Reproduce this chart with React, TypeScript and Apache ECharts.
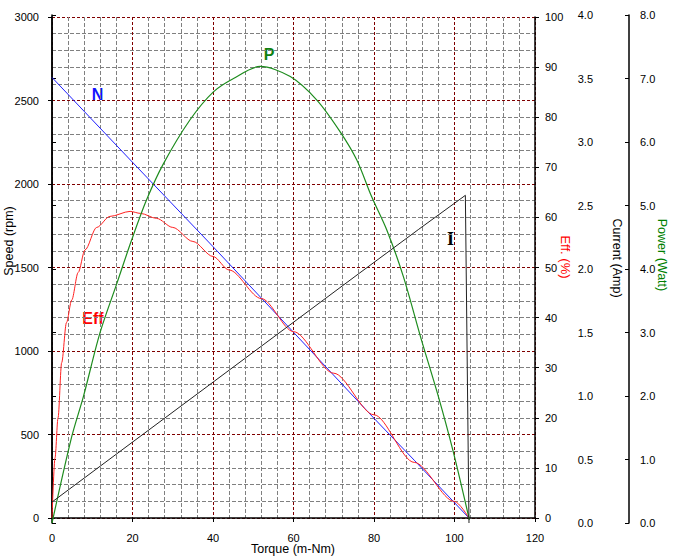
import React, { useEffect, useRef } from "react";
import * as echarts from "echarts";

// ---- data ----
const nTorque = [0, 20, 40, 60, 80, 90, 103.6];
const nSpeed = [2638, 2130, 1625, 1112, 597, 346, 0];

const effTorque = [0, 0.75, 1.5, 2.4, 3.6, 4.9, 6.5, 8.2, 11.1, 14.4, 19.4, 22, 26, 30, 35, 40, 44, 52, 60, 70, 80, 90, 100, 103.6];
const effValues = [0, 12, 20, 31, 39, 43.5, 49, 53.5, 58, 60.2, 61.2, 60.8, 59.8, 58, 55.2, 52.2, 49.5, 43.8, 37.2, 28.9, 20.6, 11.1, 3.3, 0];

const pTorque = [0, 4.9, 7.8, 11.9, 16.1, 19.8, 23.5, 27.7, 34.3, 40.1, 45.1, 51.7, 59.2, 65.8, 71.6, 75.7, 79.4, 83.2, 87.3, 91.8, 96, 99.7, 103.7];
const pValues = [0, 1.36, 1.99, 2.99, 3.77, 4.46, 5.09, 5.66, 6.35, 6.79, 7.0, 7.19, 7.03, 6.66, 6.16, 5.72, 5.14, 4.61, 3.88, 2.88, 1.99, 1.12, 0.05];

const iTorque = [0, 76.5, 91, 102.7, 103.6];
const iValues = [0.165, 1.97, 2.31, 2.58, 0];

const xTicks = { min: 0, max: 120, interval: 20 };
const speedTicks = { min: 0, max: 3000, interval: 500 };
const effTicks = { min: 0, max: 100, interval: 10 };
const currentTicks = { min: 0, max: 4, interval: 0.5 };
const powerTicks = { min: 0, max: 8, interval: 1 };

const pairs = (xs: number[], ys: number[]) => xs.map((x, i) => [x, ys[i]]);

const FONT = "'Liberation Sans', Arial, sans-serif";

export default function App() {
  const ref = useRef<HTMLDivElement>(null);
  useEffect(() => {
    if (!ref.current) return;
    const chart = echarts.init(ref.current, undefined, { renderer: "svg" });
    const labelStyle = { color: "#000", fontSize: 11, fontFamily: FONT };
    chart.setOption({
      animation: false,
      backgroundColor: "#fff",
      grid: [
        { left: 52, top: 17, width: 483, height: 501 },
        { left: 52, top: 15, width: 483, height: 508 },
      ],
      xAxis: [
        {
          type: "value",
          gridIndex: 0,
          ...xTicks,
          axisLine: { show: true, lineStyle: { color: "#000", width: 1.5 } },
          axisTick: { show: true, length: 4, lineStyle: { color: "#000" } },
          axisLabel: { ...labelStyle, margin: 14, formatter: (v: number) => String(v) },
          splitLine: { show: true, lineStyle: { color: "#800000", type: [3, 2], width: 1 } },
          minorTick: { show: false, splitNumber: 5 },
          minorSplitLine: { show: true, lineStyle: { color: "#808080", type: [4, 2], width: 1 } },
        },
        {
          type: "value",
          gridIndex: 1,
          ...xTicks,
          show: false,
          splitLine: { show: false },
        },
      ],
      yAxis: [
        {
          type: "value",
          gridIndex: 0,
          position: "left",
          ...speedTicks,
          axisLine: { show: true, lineStyle: { color: "#000", width: 1.5 } },
          axisTick: { show: true, length: 4, lineStyle: { color: "#000" } },
          axisLabel: { ...labelStyle, margin: 13, formatter: (v: number) => String(v) },
          splitLine: { show: true, lineStyle: { color: "#800000", type: [3, 2], width: 1 } },
          minorTick: { show: false, splitNumber: 5 },
          minorSplitLine: { show: true, lineStyle: { color: "#808080", type: [4, 2], width: 1 } },
        },
        {
          type: "value",
          gridIndex: 0,
          position: "right",
          ...effTicks,
          axisLine: { show: true, lineStyle: { color: "#000", width: 1.5 } },
          axisTick: { show: true, length: 4, lineStyle: { color: "#000" } },
          axisLabel: { ...labelStyle, margin: 10, formatter: (v: number) => String(v) },
          splitLine: { show: false },
        },
        {
          type: "value",
          gridIndex: 1,
          position: "right",
          offset: 69,
          ...currentTicks,
          axisLine: { show: true, lineStyle: { color: "#000", width: 1.5 } },
          axisTick: { show: true, inside: false, length: 4, lineStyle: { color: "#000" } },
          axisLabel: { ...labelStyle, inside: true, margin: 11, formatter: (v: number) => v.toFixed(1) },
          splitLine: { show: false },
        },
        {
          type: "value",
          gridIndex: 1,
          position: "right",
          offset: 94,
          ...powerTicks,
          axisLine: { show: true, lineStyle: { color: "#000", width: 1.5 } },
          axisTick: { show: true, inside: true, length: 4, lineStyle: { color: "#000" } },
          axisLabel: { ...labelStyle, margin: 11, formatter: (v: number) => v.toFixed(1) },
          splitLine: { show: false },
        },
      ],
      series: [
        {
          name: "N",
          type: "line",
          xAxisIndex: 0,
          yAxisIndex: 0,
          data: pairs(nTorque, nSpeed),
          showSymbol: false,
          lineStyle: { color: "#1f1fff", width: 1 },
          z: 3,
        },
        {
          name: "Eff",
          type: "line",
          xAxisIndex: 0,
          yAxisIndex: 1,
          data: pairs(effTorque, effValues),
          showSymbol: false,
          smooth: 0.3,
          smoothMonotone: "x",
          lineStyle: { color: "#ff2020", width: 1 },
          z: 4,
        },
        {
          name: "P",
          type: "line",
          xAxisIndex: 1,
          yAxisIndex: 3,
          data: pairs(pTorque, pValues),
          showSymbol: false,
          smooth: 0.3,
          lineStyle: { color: "#1e8c1e", width: 1.2 },
          z: 4,
        },
        {
          name: "I",
          type: "line",
          xAxisIndex: 1,
          yAxisIndex: 2,
          data: pairs(iTorque, iValues),
          showSymbol: false,
          lineStyle: { color: "#222", width: 1 },
          z: 4,
        },
      ],
      graphic: [
        { type: "text", x: 9, y: 241, rotation: Math.PI / 2, style: { text: "Speed (rpm)", fill: "#000", font: `12.5px ${FONT}`, textAlign: "center", textVerticalAlign: "middle" } },
        { type: "text", x: 293, y: 549, style: { text: "Torque (m-Nm)", fill: "#000", font: `12.5px ${FONT}`, textAlign: "center", textVerticalAlign: "middle" } },
        { type: "text", x: 565, y: 257, rotation: -Math.PI / 2, style: { text: "Eff. (%)", fill: "#ff0000", font: `13px ${FONT}`, textAlign: "center", textVerticalAlign: "middle" } },
        { type: "text", x: 617, y: 258, rotation: -Math.PI / 2, style: { text: "Current (Amp)", fill: "#000", font: `12.5px ${FONT}`, textAlign: "center", textVerticalAlign: "middle" } },
        { type: "text", x: 662, y: 255, rotation: -Math.PI / 2, style: { text: "Power (Watt)", fill: "#008000", font: `12.5px ${FONT}`, textAlign: "center", textVerticalAlign: "middle" } },
        { type: "text", x: 97.5, y: 94, style: { text: "N", fill: "#1010ff", font: `bold 16px ${FONT}`, textAlign: "center", textVerticalAlign: "middle" } },
        { type: "text", x: 269, y: 54, style: { text: "P", fill: "#108010", font: `bold 16px ${FONT}`, textAlign: "center", textVerticalAlign: "middle" } },
        { type: "text", x: 93, y: 318, style: { text: "Eff", fill: "#ff0000", font: `bold 16px ${FONT}`, textAlign: "center", textVerticalAlign: "middle" } },
        { type: "text", x: 450.5, y: 239, style: { text: "I", fill: "#000", font: `bold 18px 'Liberation Serif', 'DejaVu Serif', serif`, textAlign: "center", textVerticalAlign: "middle" } },
      ],
    });
    return () => chart.dispose();
  }, []);
  return <div ref={ref} style={{ position: "fixed", left: 0, top: 0, width: 676, height: 560 }} />;
}
